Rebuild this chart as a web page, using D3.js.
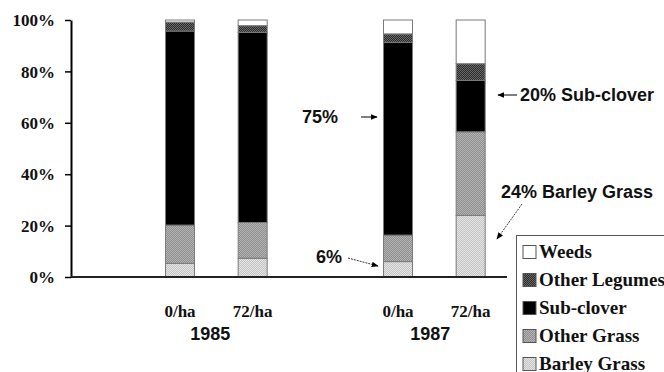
<!DOCTYPE html>
<html><head><meta charset="utf-8">
<script src="https://cdn.jsdelivr.net/npm/d3@7"></script>
<style>body{margin:0;background:#fff}svg{display:block}</style>
</head><body>
<script>
const slots = ["e1","1985-0","1985-72","e2","1987-0","1987-72"];
const barSlots = ["1985-0","1985-72","1987-0","1987-72"];
const categories = ["0/ha","72/ha","0/ha","72/ha"];
const years = ["1985","1987"];
const seriesNames = ["Barley Grass","Other Grass","Sub-clover","Other Legumes","Weeds"];
const barleyGrass = [5.3, 7.3, 6, 24];
const otherGrass = [14.9, 13.9, 10.3, 32.5];
const subClover = [75.5, 74, 75, 20];
const otherLegumes = [3.5, 2.6, 3.3, 6.5];
const weeds = [0.8, 2.2, 5.4, 17];
const yTicks = [0,20,40,60,80,100];
const legendOrder = ["Weeds","Other Legumes","Sub-clover","Other Grass","Barley Grass"];

const table = barSlots.map((s,i)=>({slot:s,"Barley Grass":barleyGrass[i],"Other Grass":otherGrass[i],"Sub-clover":subClover[i],"Other Legumes":otherLegumes[i],"Weeds":weeds[i]}));

const W=664,H=372;
const svg=d3.select("body").append("svg").attr("width",W).attr("height",H);
const defs=svg.append("defs");
function checker(id,a,b){
  const p=defs.append("pattern").attr("id",id).attr("width",2).attr("height",2).attr("patternUnits","userSpaceOnUse");
  p.append("rect").attr("width",2).attr("height",2).attr("fill",a);
  p.append("rect").attr("width",1).attr("height",1).attr("fill",b);
  p.append("rect").attr("x",1).attr("y",1).attr("width",1).attr("height",1).attr("fill",b);
}
checker("pBarley","#c4c4c4","#e4e4e4");
checker("pOther","#8e8e8e","#b4b4b4");
checker("pLeg","#2a2a2a","#6a6a6a");
const fills={"Barley Grass":"url(#pBarley)","Other Grass":"url(#pOther)","Sub-clover":"#000","Other Legumes":"url(#pLeg)","Weeds":"#fff"};

const x=d3.scaleBand().domain(slots).range([71,507]).padding(0);
const y=d3.scaleLinear().domain([0,100]).range([277,20]);
const bw=29;

const stack=d3.stack().keys(seriesNames)(table);
const g=svg.append("g");
stack.forEach(layer=>{
  g.selectAll(null).data(layer).enter().append("rect")
   .attr("x",d=>x(d.data.slot)+x.bandwidth()/2-bw/2)
   .attr("y",d=>y(d[1]))
   .attr("width",bw)
   .attr("height",d=>y(d[0])-y(d[1]))
   .attr("fill",fills[layer.key])
   .attr("stroke","#7a7a7a").attr("stroke-width",1);
});

// axes
const yAxis=d3.axisLeft(y).tickValues(yTicks).tickFormat(d=>d+"%").tickSize(6).tickSizeOuter(0);
const ya=svg.append("g").attr("transform","translate(71,0)").call(yAxis);
ya.select(".domain").attr("stroke","#000").attr("stroke-width",2);
ya.selectAll(".tick line").attr("stroke","#000").attr("stroke-width",1.5);
ya.selectAll(".tick text").attr("font-family","Liberation Serif").attr("font-weight","bold").attr("font-size",17).attr("fill","#111").attr("x",-16).attr("dy","0.33em");
svg.append("line").attr("x1",71).attr("x2",507).attr("y1",y(0)).attr("y2",y(0)).attr("stroke","#222").attr("stroke-width",2);

// x labels
barSlots.forEach((s,i)=>{
  svg.append("text").attr("x",x(s)+x.bandwidth()/2).attr("y",317).attr("text-anchor","middle")
   .attr("font-family","Liberation Serif").attr("font-weight","bold").attr("font-size",17).attr("fill","#111").text(categories[i]);
});
years.forEach((yr,i)=>{
  const a=x(barSlots[i*2])+x.bandwidth()/2, b=x(barSlots[i*2+1])+x.bandwidth()/2;
  svg.append("text").attr("x",(a+b)/2-6+(i*2)).attr("y",340).attr("text-anchor","middle")
   .attr("font-family","Liberation Sans").attr("font-weight","bold").attr("font-size",18).attr("fill","#111").text(yr);
});

// arrow markers
defs.append("marker").attr("id","arr").attr("viewBox","0 0 10 10").attr("refX",9).attr("refY",5)
 .attr("markerWidth",7).attr("markerHeight",7).attr("orient","auto")
 .append("path").attr("d","M0,1 L10,5 L0,9 Z").attr("fill","#000");
const ann=(t,xx,yy)=>svg.append("text").attr("x",xx).attr("y",yy).attr("font-family","Liberation Sans").attr("font-weight","bold").attr("font-size",18).attr("fill","#111").text(t);
ann("75%",302,123);
svg.append("line").attr("x1",361).attr("y1",117).attr("x2",377).attr("y2",117).attr("stroke","#000").attr("stroke-width",1).attr("marker-end","url(#arr)");
ann("6%",316,263);
svg.append("line").attr("x1",348).attr("y1",258).attr("x2",378).attr("y2",266).attr("stroke","#333").attr("stroke-width",1).attr("stroke-dasharray","2,1").attr("marker-end","url(#arr)");
ann("20% Sub-clover",520,101);
svg.append("line").attr("x1",517).attr("y1",95).attr("x2",498).attr("y2",95).attr("stroke","#000").attr("stroke-width",1).attr("marker-end","url(#arr)");
ann("24% Barley Grass",501,198);
svg.append("line").attr("x1",522).attr("y1",204).attr("x2",497).attr("y2",239).attr("stroke","#444").attr("stroke-width",1).attr("stroke-dasharray","2,1").attr("marker-end","url(#arr)");

// legend
const lg=svg.append("g");
lg.append("rect").attr("x",516.5).attr("y",235.5).attr("width",160).attr("height",150).attr("fill","#fff").attr("stroke","#555").attr("stroke-width",1);
legendOrder.forEach((k,i)=>{
  const cy=252+i*28;
  lg.append("rect").attr("x",523).attr("y",cy-6.5).attr("width",13).attr("height",13).attr("fill",fills[k]).attr("stroke","#555").attr("stroke-width",1);
  lg.append("text").attr("x",539).attr("y",cy+6).attr("font-family","Liberation Serif").attr("font-weight","bold").attr("font-size",19).attr("fill","#111").text(k);
});
</script>
</body></html>
